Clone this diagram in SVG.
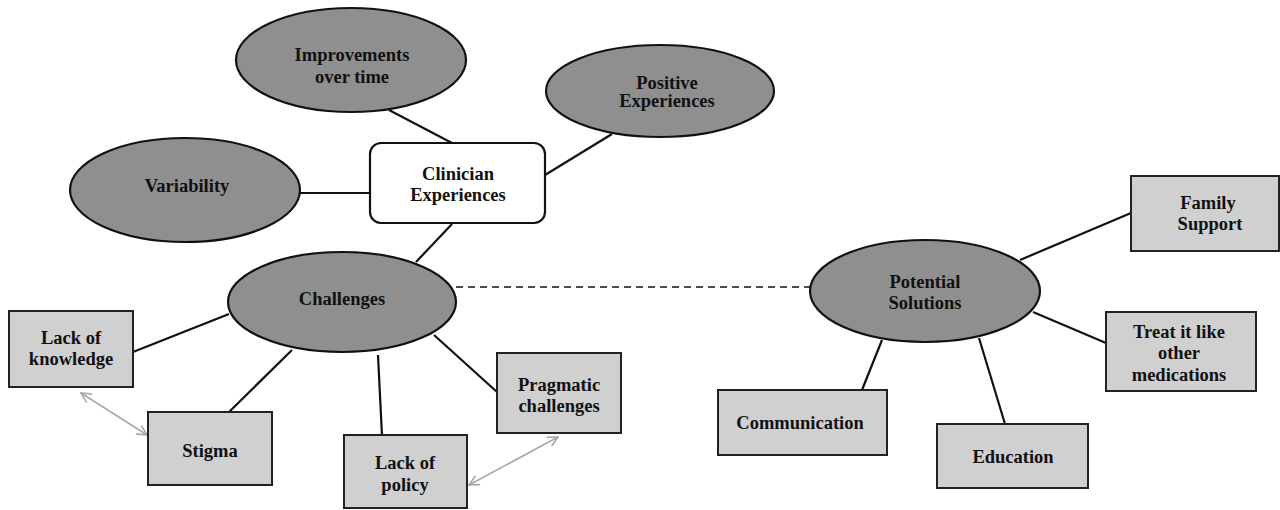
<svg xmlns="http://www.w3.org/2000/svg" width="1280" height="510" viewBox="0 0 1280 510">
<style>
.ell{fill:#8f8f8f;stroke:#111;stroke-width:2.2}
.box{fill:#d0d0d0;stroke:#222;stroke-width:2}
.root{fill:#fff;stroke:#111;stroke-width:2.2}
.lbl{font-family:"Liberation Serif","Times New Roman",serif;font-weight:bold;font-size:18.5px;fill:#111;text-anchor:middle}
.ln{stroke:#111;stroke-width:2.2;fill:none}
.dash{stroke:#111;stroke-width:1.6;stroke-dasharray:7,5;fill:none}
.gray{stroke:#a8a8a8;stroke-width:1.6;fill:none;marker-start:url(#ah);marker-end:url(#ah)}
</style>
<defs>
<marker id="ah" viewBox="0 0 12 12" refX="11" refY="6" markerWidth="12" markerHeight="12" markerUnits="userSpaceOnUse" orient="auto-start-reverse">
<path d="M1,1 L11,6 L1,11" fill="none" stroke="#a8a8a8" stroke-width="1.6"/>
</marker>
</defs>
<rect width="1280" height="510" fill="#fff"/>
<g id="connectors">
<line class="ln" x1="389" y1="110" x2="452" y2="143"/>
<line class="ln" x1="300" y1="193" x2="370" y2="193"/>
<line class="ln" x1="612" y1="134" x2="545" y2="175"/>
<line class="ln" x1="452" y1="224" x2="416" y2="262"/>
<line class="ln" x1="133" y1="352" x2="229" y2="314"/>
<line class="ln" x1="229" y1="412" x2="292" y2="350"/>
<line class="ln" x1="378" y1="355" x2="382" y2="436"/>
<line class="ln" x1="434" y1="335" x2="497" y2="392"/>
<line class="dash" x1="456" y1="287" x2="810" y2="287"/>
<line class="ln" x1="1020" y1="260" x2="1131" y2="213"/>
<line class="ln" x1="1033" y1="312" x2="1106" y2="343"/>
<line class="ln" x1="862" y1="390" x2="882" y2="340"/>
<line class="ln" x1="979" y1="338" x2="1005" y2="424"/>
<line class="gray" x1="81" y1="393" x2="147" y2="435"/>
<line class="gray" x1="469" y1="485" x2="558" y2="437"/>
</g>
<g id="clinician">
<rect class="root" x="370" y="143" width="175" height="80" rx="11"/>
<text class="lbl" x="458" y="180">Clinician</text>
<text class="lbl" x="458" y="201">Experiences</text>
</g>
<g id="improvements">
<ellipse class="ell" cx="351" cy="60" rx="115" ry="52"/>
<text class="lbl" x="352" y="61">Improvements</text>
<text class="lbl" x="352" y="83">over time</text>
</g>
<g id="positive">
<ellipse class="ell" cx="660" cy="91" rx="114" ry="46"/>
<text class="lbl" x="667" y="89">Positive</text>
<text class="lbl" x="667" y="107">Experiences</text>
</g>
<g id="variability">
<ellipse class="ell" cx="185" cy="190" rx="115" ry="52"/>
<text class="lbl" x="187" y="192">Variability</text>
</g>
<g id="challenges">
<ellipse class="ell" cx="342" cy="302" rx="114" ry="50"/>
<text class="lbl" x="342" y="305">Challenges</text>
</g>
<g id="lack-knowledge">
<rect class="box" x="9" y="311" width="124" height="76"/>
<text class="lbl" x="71" y="344">Lack of</text>
<text class="lbl" x="71" y="365">knowledge</text>
</g>
<g id="stigma">
<rect class="box" x="148" y="412" width="124" height="73"/>
<text class="lbl" x="210" y="457">Stigma</text>
</g>
<g id="lack-policy">
<rect class="box" x="344" y="435" width="123" height="73"/>
<text class="lbl" x="405" y="469">Lack of</text>
<text class="lbl" x="405" y="491">policy</text>
</g>
<g id="pragmatic">
<rect class="box" x="497" y="353" width="124" height="80"/>
<text class="lbl" x="559" y="391">Pragmatic</text>
<text class="lbl" x="559" y="412">challenges</text>
</g>
<g id="potential">
<ellipse class="ell" cx="925" cy="291" rx="115" ry="51"/>
<text class="lbl" x="925" y="288">Potential</text>
<text class="lbl" x="925" y="309">Solutions</text>
</g>
<g id="family">
<rect class="box" x="1131" y="176" width="148" height="75"/>
<text class="lbl" x="1208" y="209">Family</text>
<text class="lbl" x="1210" y="230">Support</text>
</g>
<g id="treat">
<rect class="box" x="1106" y="312" width="150" height="79"/>
<text class="lbl" x="1179" y="338">Treat it like</text>
<text class="lbl" x="1179" y="359">other</text>
<text class="lbl" x="1179" y="381">medications</text>
</g>
<g id="communication">
<rect class="box" x="718" y="390" width="169" height="65"/>
<text class="lbl" x="800" y="429">Communication</text>
</g>
<g id="education">
<rect class="box" x="937" y="424" width="151" height="64"/>
<text class="lbl" x="1013" y="463">Education</text>
</g>
</svg>
